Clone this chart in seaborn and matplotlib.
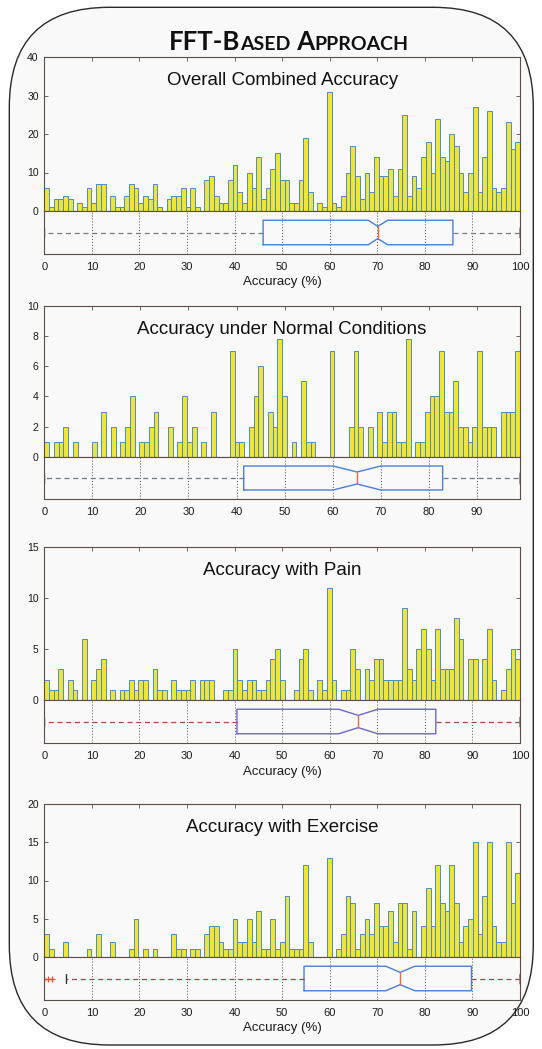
import numpy as np
import pandas as pd
import matplotlib
matplotlib.use("Agg")
import matplotlib.pyplot as plt
from matplotlib.patches import FancyBboxPatch
import seaborn as sns

# counts per 1 % accuracy bin
overall_counts = [6, 1, 3, 3, 4, 3, 0, 2, 1, 6,
                  2, 7, 7, 0, 4, 1, 1, 4, 7, 6,
                  2, 4, 3, 7, 1, 0, 3, 4, 4, 6,
                  1, 6, 1, 0, 8, 9, 4, 2, 2, 8,
                  12, 5, 2, 10, 6, 14, 3, 6, 11, 15,
                  8, 8, 2, 2, 8, 19, 5, 0, 2, 1,
                  31, 2, 1, 4, 10, 17, 9, 3, 10, 5,
                  14, 9, 9, 11, 4, 11, 25, 4, 9, 6,
                  14, 18, 10, 24, 14, 13, 20, 17, 10, 5,
                  10, 27, 5, 14, 26, 6, 5, 6, 23, 16,
                  18]
normal_counts = [1, 0, 1, 1, 2, 0, 1, 0, 0, 0,
                 1, 0, 3, 0, 2, 0, 1, 2, 4, 0,
                 1, 1, 2, 3, 0, 0, 2, 0, 1, 4,
                 1, 2, 0, 1, 0, 3, 0, 0, 0, 7,
                 1, 1, 0, 2, 4, 6, 0, 3, 2, 7.8,
                 4, 0, 1, 0, 5, 1, 1, 0, 0, 0,
                 7, 0, 0, 0, 2, 7, 2, 0, 2, 0,
                 3, 1, 3, 3, 1, 1, 7.8, 0, 1, 1,
                 3, 4, 4, 7, 3, 3, 5, 2, 2, 1,
                 2, 7, 2, 2, 2, 0, 3, 3, 3, 7]
pain_counts = [2, 1, 1, 3, 0, 2, 1, 0, 6, 0,
               2, 3, 4, 0, 1, 0, 1, 1, 2, 1,
               2, 2, 0, 3, 1, 1, 0, 2, 1, 1,
               1, 2, 0, 2, 2, 2, 0, 0, 1, 1,
               5, 2, 1, 2, 2, 1, 1, 2, 4, 5,
               2, 0, 0, 1, 4, 5, 1, 0, 2, 1,
               11, 2, 0, 1, 1, 5, 3, 0, 3, 2,
               4, 4, 2, 2, 2, 2, 9, 3, 2, 5,
               7, 5, 2, 7, 3, 3, 3, 8, 6, 0,
               4, 4, 0, 4, 7, 2, 0, 1, 3, 5,
               4]
exercise_counts = [3, 1, 0, 0, 2, 0, 0, 0, 0, 1,
                   0, 3, 0, 0, 2, 0, 0, 0, 1, 5,
                   0, 1, 0, 1, 0, 0, 0, 3, 1, 1,
                   0, 1, 1, 0, 3, 4, 4, 2, 1, 1,
                   5, 2, 2, 5, 2, 6, 1, 1, 5, 1,
                   2, 8, 1, 1, 1, 12, 2, 0, 0, 0,
                   13, 0, 1, 3, 8, 7, 1, 3, 5, 3,
                   7, 4, 4, 6, 2, 7, 7, 1, 6, 0,
                   4, 9, 4, 12, 7, 6, 12, 7, 2, 4,
                   5, 15, 3, 8, 15, 4, 2, 2, 15, 7,
                   11]

# notched box summaries (accuracy %)
overall_box = dict(q1=46.0, med=70.1, q3=85.9, cilo=68.1, cihi=72.2,
                   whislo=0, whishi=100, fliers=[])
normal_box = dict(q1=41.5, med=65.1, q3=82.9, cilo=60.1, cihi=70.0,
                  whislo=0, whishi=99, fliers=[])
pain_box = dict(q1=40.5, med=66.0, q3=82.3, cilo=61.9, cihi=70.1,
                whislo=0, whishi=100, fliers=[])
exercise_box = dict(q1=54.6, med=74.8, q3=89.8, cilo=71.8, cihi=77.9,
                    whislo=4.5, whishi=100, fliers=[0, 0.8, 1.6])

titles = ["Overall Combined Accuracy", "Accuracy under Normal Conditions",
          "Accuracy with Pain", "Accuracy with Exercise"]
x_max = [100, 99, 100, 100]
y_ticks = [[0, 10, 20, 30, 40], [0, 2, 4, 6, 8, 10],
           [0, 5, 10, 15], [0, 5, 10, 15, 20]]
x_ticks = [list(range(0, 101, 10)), list(range(0, 91, 10)),
           list(range(0, 101, 10)), list(range(0, 101, 10))]
show_xlabel = [True, False, True, True]

W, H = 542, 1049
BG = "#f9f9f9"
SPINE = "#5e4d46"
BAR = "#efe535"
EDGE = "#4a8cc4"
BOXC = "#4a7fd6"
whisker_colors = ["#7a7a7a", "#66788a", "#a04a48", "#a24640"]
box_colors = [BOXC, BOXC, "#6a68cc", BOXC]

# pixel rows (top, split, bottom) of each panel
rows = [(57, 211, 254), (305.7, 457, 499), (547, 700, 743), (804, 957, 1000)]

sns.set_style("white")
plt.rcParams["font.family"] = ["Liberation Sans", "DejaVu Sans"]

fig = plt.figure(figsize=(W / 100, H / 100), dpi=100, facecolor="white")

# rounded frame around the whole figure
frame = FancyBboxPatch((0.093, 0.04), 5.24, 10.377,
                       boxstyle="round,pad=0,rounding_size=1.0",
                       transform=fig.dpi_scale_trans, facecolor=BG,
                       edgecolor="#2a2a2a", linewidth=1.0, zorder=-5)
fig.patches.append(frame)


def rect(top, bottom):
    return [44.3 / W, 1 - bottom / H, (520 - 44.3) / W, (bottom - top) / H]


panels = zip([overall_counts, normal_counts, pain_counts, exercise_counts],
             [overall_box, normal_box, pain_box, exercise_box])

for i, (counts, stats) in enumerate(panels):
    top, mid, bot = rows[i]
    n = len(counts)
    edges = np.linspace(0, x_max[i], n + 1)
    df = pd.DataFrame({"acc": (edges[:-1] + edges[1:]) / 2, "n": counts})

    ax = fig.add_axes(rect(top, mid), facecolor=BG)
    sns.histplot(data=df, x="acc", weights="n", bins=n,
                 binrange=(0, x_max[i]), ax=ax, color=BAR,
                 edgecolor=EDGE, linewidth=0.7, alpha=1)
    ax.set_xlim(0, x_max[i])
    ax.set_ylim(y_ticks[i][0], y_ticks[i][-1])
    ax.set_yticks(y_ticks[i])
    ax.set_xticks(x_ticks[i])
    ax.set_ylabel("")
    ax.set_xlabel("")
    ax.tick_params(axis="both", direction="in", length=3, width=0.6,
                   color=SPINE, labelsize=7.5, labelcolor="#1a1a1a", pad=4)
    ax.tick_params(axis="x", top=True, bottom=False, labelbottom=False)
    ax.tick_params(axis="y", left=True, right=True)
    for s in ax.spines.values():
        s.set_color(SPINE)
        s.set_linewidth(0.8)
    ax.annotate(titles[i], xy=(0.5, 1), xycoords="axes fraction",
                xytext=(0, -20.3), textcoords="offset points",
                ha="center", va="baseline", fontsize=13.5, color="#111")

    bax = fig.add_axes(rect(mid, bot), facecolor=BG)
    st = dict(stats, label="")
    parts = bax.bxp([st], positions=[0], widths=1.14, orientation="horizontal",
                    shownotches=True, showfliers=True, capwidths=0.45,
                    boxprops=dict(color=box_colors[i], linewidth=1.0),
                    whiskerprops=dict(color=whisker_colors[i], linewidth=0.9,
                                      linestyle=(0, (4, 3))),
                    capprops=dict(color="#7a7a7a", linewidth=1.8),
                    medianprops=dict(color="#ec6a40", linewidth=1.0),
                    flierprops=dict(marker="+", markeredgecolor="#e8563a",
                                    markersize=5, linestyle="none"))
    # lower cap is a thin dark tick, upper cap a thick grey one
    parts["caps"][0].set_color("#333333")
    parts["caps"][0].set_linewidth(1.0)
    bax.set_xlim(0, x_max[i])
    bax.set_ylim(-1, 1)
    bax.set_yticks([])
    bax.set_xticks(x_ticks[i])
    bax.set_xticklabels([str(t) for t in x_ticks[i]])
    bax.grid(axis="x", linestyle=(0, (1, 2)), color="#505050", linewidth=0.7)
    bax.set_axisbelow(True)
    bax.tick_params(axis="x", direction="in", length=0, labelsize=8,
                    labelcolor="#1a1a1a", pad=6)
    for s in bax.spines.values():
        s.set_color(SPINE)
        s.set_linewidth(0.8)
    if show_xlabel[i]:
        bax.set_xlabel("Accuracy (%)", fontsize=9.5, labelpad=3, color="#1a1a1a")

# small-caps heading
pieces = [("FFT-B", 18.5), ("ASED", 14), (" A", 18.5), ("PPROACH", 14)]
renderer = fig.canvas.get_renderer()
texts = []
for s, size in pieces:
    t = fig.text(0, 1 - 50.5 / H, s, fontsize=size, fontfamily="Lato",
                 fontweight="bold", color="#111", va="baseline", ha="left")
    texts.append(t)
widths = [t.get_window_extent(renderer).width for t in texts]
x = 289 - sum(widths) / 2
for t, w in zip(texts, widths):
    t.set_x(x / W)
    x += w

fig.savefig("out.png", dpi=100, facecolor="white")
